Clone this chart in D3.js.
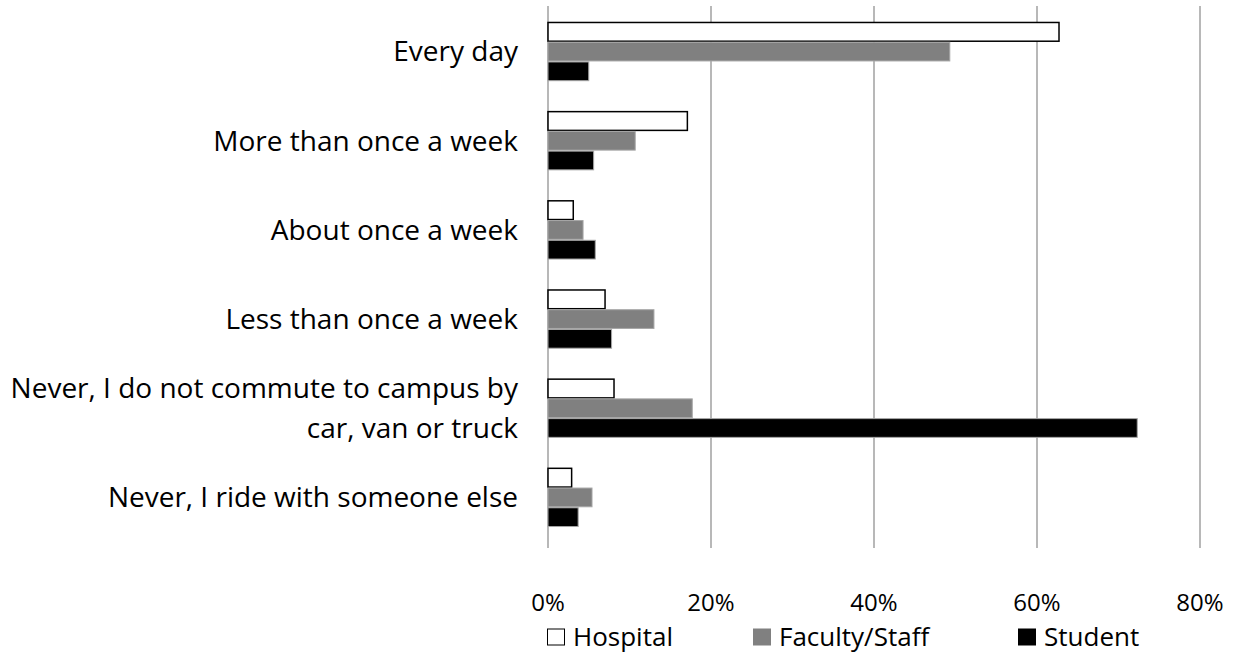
<!DOCTYPE html>
<html><head><meta charset="utf-8">
<script src="https://cdn.jsdelivr.net/npm/d3@7"></script>
<style>body{margin:0;background:#fff}svg{display:block}text{font-family:"Open Sans",sans-serif;fill:#000}</style>
</head><body>
<svg id="c" width="1239" height="655"></svg>
<script>
const categories = [
  ["Every day"],
  ["More than once a week"],
  ["About once a week"],
  ["Less than once a week"],
  ["Never, I do not commute to campus by", "car, van or truck"],
  ["Never, I ride with someone else"]
];
const seriesNames = ["Hospital", "Faculty/Staff", "Student"];
const hospital = [62.7, 17.1, 3.1, 7.0, 8.1, 2.9];
const facultyStaff = [49.3, 10.7, 4.3, 13.0, 17.7, 5.4];
const student = [5.0, 5.6, 5.8, 7.8, 72.3, 3.7];
const xTicks = [0, 20, 40, 60, 80];
const fills = ["#ffffff", "#808080", "#000000"];
const strokes = ["#000000", "#a6a6a6", "#a6a6a6"];

const values = [hospital, facultyStaff, student];
const svg = d3.select("#c");
const x = d3.scaleLinear().domain([0, 80]).range([548, 1200]);
const catIdx = d3.range(categories.length);
const y = d3.scaleBand().domain(catIdx).range([7, 542]).paddingInner(0.336).paddingOuter(0.168);
const ys = d3.scaleBand().domain(d3.range(3)).range([0, y.bandwidth()]);

// gridlines
svg.append("g").selectAll("line").data(xTicks).join("line")
  .attr("x1", d => x(d)).attr("x2", d => x(d)).attr("y1", 6).attr("y2", 548)
  .attr("stroke", "#a0a0a0").attr("stroke-width", 1.5);

// bars
values.forEach((vals, s) => {
  svg.append("g").selectAll("rect").data(vals).join("rect")
    .attr("x", x(0)).attr("y", (d, i) => y(i) + ys(s) + 0.5)
    .attr("width", d => x(d) - x(0)).attr("height", ys.bandwidth() - 1)
    .attr("fill", fills[s]).attr("stroke", strokes[s]).attr("stroke-width", s === 0 ? 1.5 : 1);
});

// category labels
const lab = svg.append("g").selectAll("text").data(categories).join("text")
  .attr("text-anchor", "end").attr("font-size", 28)
  .attr("x", 518);
lab.each(function(lines, i) {
  const cy = y(i) + y.bandwidth() / 2;
  const t = d3.select(this);
  const lh = 40;
  lines.forEach((ln, k) => {
    t.append("tspan").attr("x", 518)
      .attr("y", cy + (k - (lines.length - 1) / 2) * lh)
      .attr("dy", "0.35em").text(ln);
  });
});

// x tick labels
svg.append("g").selectAll("text").data(xTicks).join("text")
  .attr("x", d => x(d)).attr("y", 603).attr("dy", "0.35em")
  .attr("text-anchor", "middle").attr("font-size", 24).text(d => d + "%");

// legend
const legX = [547, 753, 1018];
const lg = svg.append("g").selectAll("g").data(seriesNames).join("g")
  .attr("transform", (d, i) => `translate(${legX[i]},637)`);
lg.append("rect").attr("x", 0.5).attr("y", -8).attr("width", 17).attr("height", 16)
  .attr("fill", (d, i) => fills[i]).attr("stroke", (d, i) => i === 0 ? "#000" : fills[i]).attr("stroke-width", 1);
lg.append("text").attr("x", 26).attr("y", 0).attr("dy", "0.35em").attr("font-size", 26).text(d => d);
</script>
</body></html>
